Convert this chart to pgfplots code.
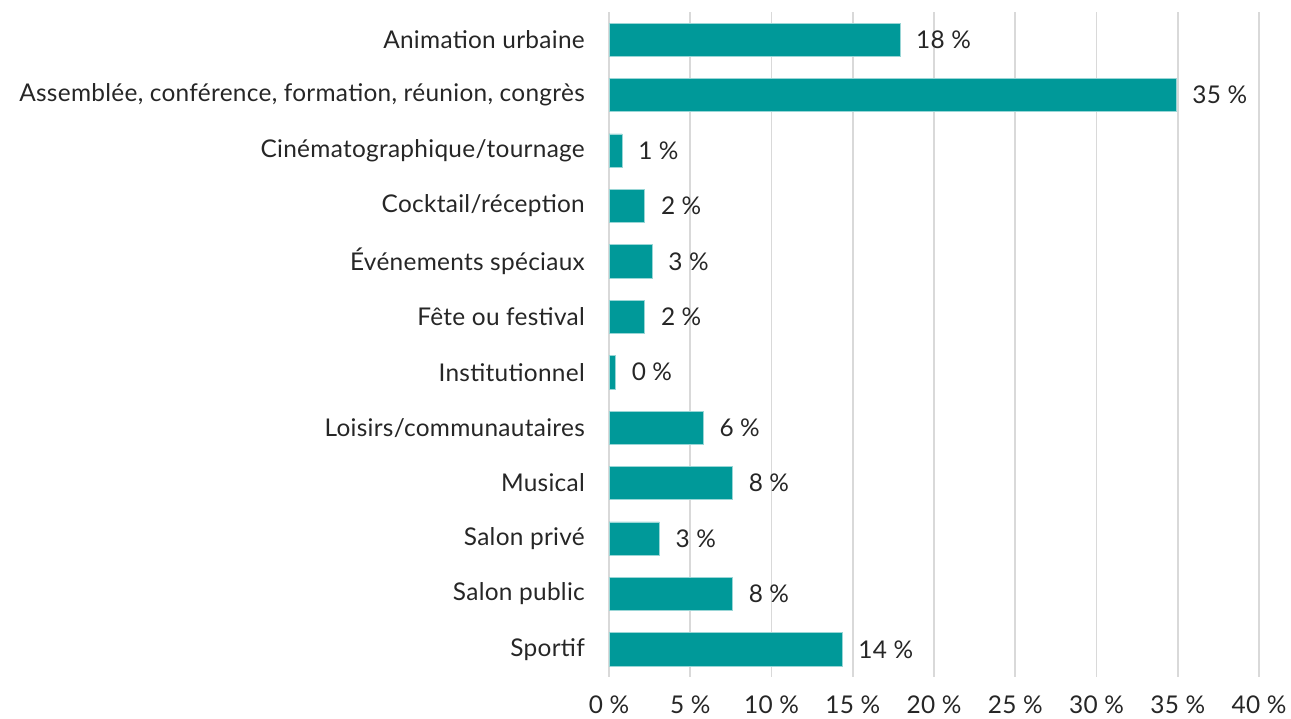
\documentclass[border=0pt]{standalone}
\usepackage{pgfplots}
\pgfplotsset{compat=1.18}
\usepackage{fontspec}
\setmainfont{Lato}[LetterSpace=1.2]
\definecolor{barteal}{RGB}{0,153,153}
\definecolor{gridgray}{RGB}{217,217,217}
\definecolor{txt}{RGB}{38,38,38}

\begin{document}
\begin{tikzpicture}
\useasboundingbox (0,0) rectangle (1291bp,719bp);
\begin{axis}[
    at={(609bp,42bp)}, anchor=south west,
    scale only axis,
    width=650bp, height=665bp,
    xbar, bar width=0.6,
    xmin=0, xmax=40,
    ymin=-0.5, ymax=11.5,
    y dir=reverse,
    ytick={0,...,11},
    yticklabels={Animation urbaine,
      {Assemblée, conférence, formation, réunion, congrès},
      Cinématographique/tournage, Cocktail/réception,
      Événements spéciaux, Fête ou festival, Institutionnel,
      Loisirs/communautaires, Musical, Salon privé, Salon public, Sportif},
    xtick={0,5,...,40},
    xticklabels={0 \%,5 \%,10 \%,15 \%,20 \%,25 \%,30 \%,35 \%,40 \%},
    xmajorgrids,
    grid style={gridgray, line width=1.6bp},
    axis line style={draw=none},
    major tick length=0pt,
    tick label style={font=\fontsize{24.5}{28}\selectfont, text=txt},
    yticklabel style={anchor=east, inner sep=0pt, xshift=-24bp},
    xticklabel style={anchor=center, inner sep=0pt, yshift=-28bp},
    point meta=explicit symbolic,
    nodes near coords={\pgfplotspointmeta~\%},
    every node near coord/.append style={font=\fontsize{24.5}{28}\selectfont,
      text=txt, anchor=west, inner sep=0pt, xshift=16bp},
]
\addplot[fill=barteal, draw=barteal!40!white, line width=0.6bp]
  coordinates {
    (17.9,0) [18]
    (34.9,1) [35]
    (0.8,2) [1]
    (2.2,3) [2]
    (2.65,4) [3]
    (2.2,5) [2]
    (0.4,6) [0]
    (5.8,7) [6]
    (7.6,8) [8]
    (3.1,9) [3]
    (7.6,10) [8]
    (14.35,11) [14]
  };
\end{axis}
\end{tikzpicture}
\end{document}
